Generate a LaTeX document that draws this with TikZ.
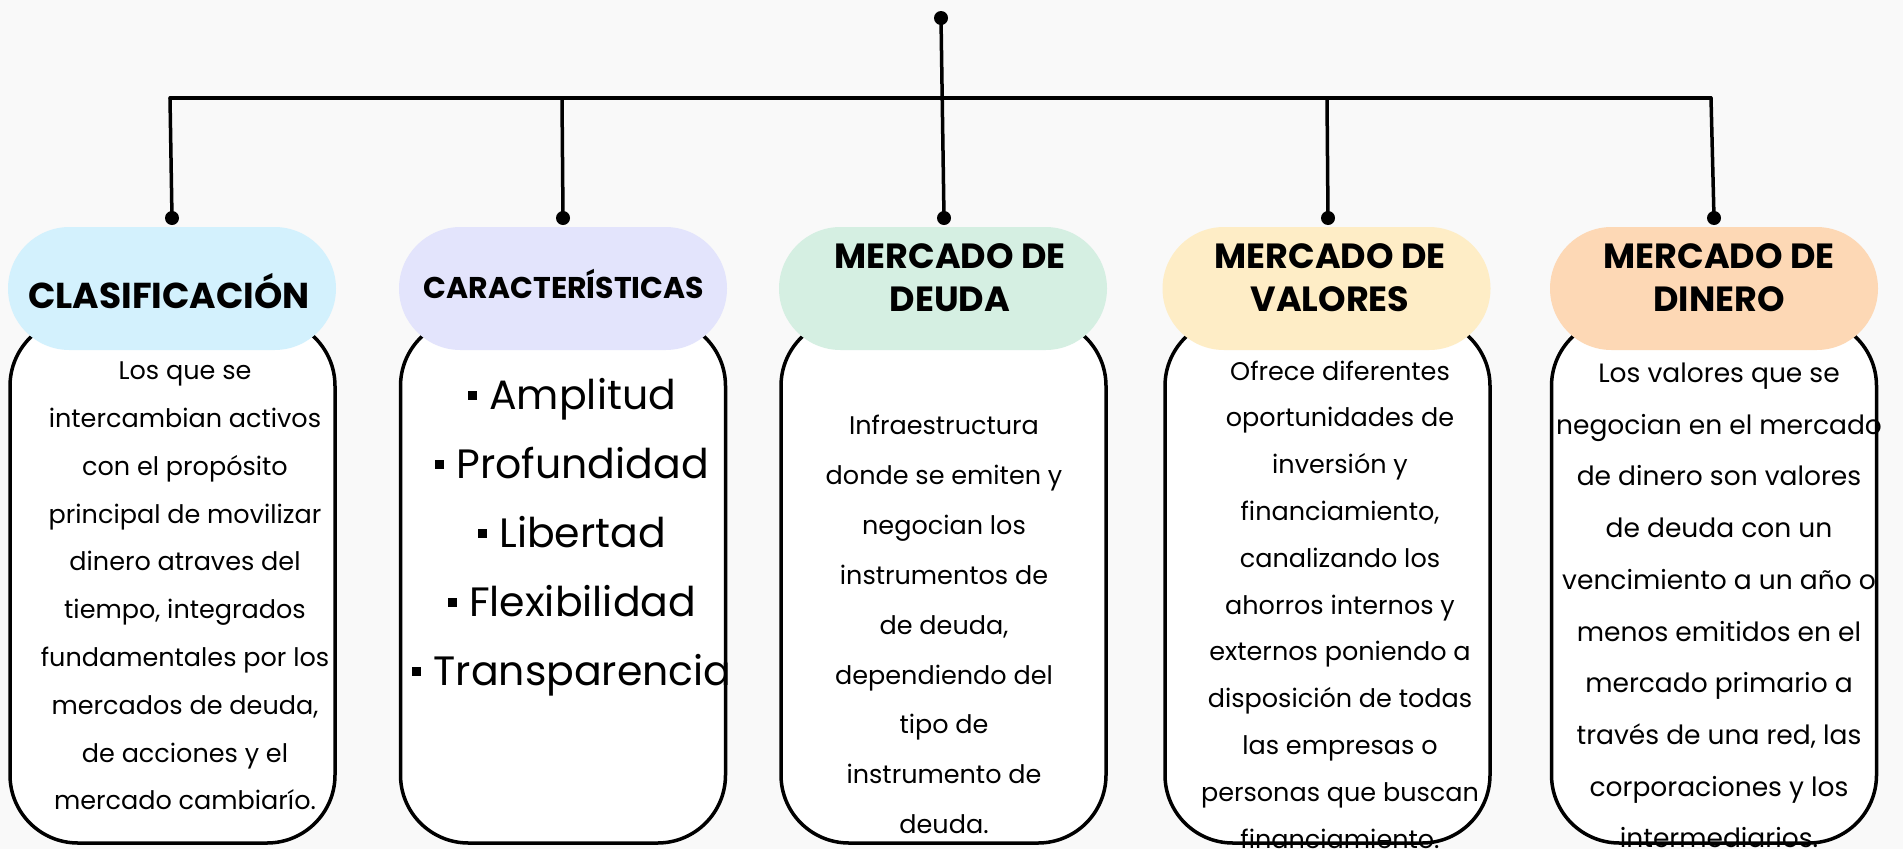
\documentclass[tikz,border=0pt]{standalone}
\usepackage{fontspec}
\setmainfont{Poppins}
\definecolor{bgc}{HTML}{F9F9F9}
\definecolor{pcyan}{HTML}{D3F1FD}
\definecolor{plav}{HTML}{E3E4FC}
\definecolor{pmint}{HTML}{D5EFE2}
\definecolor{pcream}{HTML}{FEEDC6}
\definecolor{ppeach}{HTML}{FDD8B5}
\tikzset{
  wire/.style={line width=3.5pt, line cap=round},
  dotnode/.style={circle, fill=black, inner sep=0pt, minimum size=14pt},
  pill/.style={rectangle, rounded corners=61.5pt, inner sep=0pt, minimum width=328pt, minimum height=123pt},
  bodybox/.style={rectangle, rounded corners=68pt, draw=black, fill=white, line width=3.5pt, inner sep=0pt, minimum width=325pt, minimum height=525pt},
  headtxt/.style={font={\fontsize{35}{43}\selectfont\bfseries}, align=center, inner sep=0pt},
  bodytxt/.style={align=center, inner sep=0pt},
}
\newcommand{\sqb}{\raisebox{0.22em}{\rule{0.22em}{0.22em}}\hspace{0.3em}}
\begin{document}
\begin{tikzpicture}[x=1pt,y=-1pt]
\fill[bgc] (0,0) rectangle (1903,849);
\useasboundingbox (0,0) rectangle (1903,849);

% body boxes
\node[bodybox] (b1) at (172.5,580.5) {};
\node[bodybox] (b2) at (563,580.5) {};
\node[bodybox] (b3) at (943.5,580.5) {};
\node[bodybox] (b4) at (1327.5,580.5) {};
\node[bodybox] (b5) at (1714,580.5) {};

% pills
\node[pill, fill=pcyan] (p1) at (172,288.5) {};
\node[pill, fill=plav] (p2) at (563,288.5) {};
\node[pill, fill=pmint] (p3) at (943,288.5) {};
\node[pill, fill=pcream] (p4) at (1326.5,288.5) {};
\node[pill, fill=ppeach] (p5) at (1714,288.5) {};

% header texts
\node[headtxt, font={\fontsize{36}{43}\selectfont\bfseries}] (h1) at (169,291) {CLASIFICACIÓN};
\node[headtxt, font={\fontsize{30}{36}\selectfont\bfseries}] (h2) at (564,284) {CARACTERÍSTICAS};
\node[headtxt] (h3) at (950,277.5) {MERCADO DE\\DEUDA};
\node[headtxt] (h4) at (1330,277.5) {MERCADO DE\\VALORES};
\node[headtxt] (h5) at (1719,277.5) {MERCADO DE\\DINERO};

% body texts
\node[bodytxt, font={\fontsize{25.5}{47.8}\selectfont}] (t1) at (185,586) {Los que se\\intercambian activos\\con el propósito\\principal de movilizar\\dinero atraves del\\tiempo, integrados\\fundamentales por los\\mercados de deuda,\\de acciones y el\\mercado cambiarío.};
\node[bodytxt, font={\fontsize{41}{69}\selectfont}] (t2) at (572,537) {\sqb Amplitud\\\sqb Profundidad\\\sqb Libertad\\\sqb Flexibilidad\\\sqb Transparencia};
\node[bodytxt, font={\fontsize{25.5}{49.9}\selectfont}] (t3) at (944,624.5) {Infraestructura\\donde se emiten y\\negocian los\\instrumentos de\\de deuda,\\dependiendo del\\tipo de\\instrumento de\\deuda.};
\node[bodytxt, font={\fontsize{25.5}{46.8}\selectfont}] (t4) at (1340,604.5) {Ofrece diferentes\\oportunidades de\\inversión y\\financiamiento,\\canalizando los\\ahorros internos y\\externos poniendo a\\disposición de todas\\las empresas o\\personas que buscan\\financiamiento.};
\node[bodytxt, font={\fontsize{26.5}{51.7}\selectfont}] (t5) at (1719,605.5) {Los valores que se\\negocian en el mercado\\de dinero son valores\\de deuda con un\\vencimiento a un año o\\menos emitidos en el\\mercado primario a\\través de una red, las\\corporaciones y los\\intermediarios.};

% connectors
\coordinate (j1) at (170,98);
\coordinate (j2) at (562,98);
\coordinate (j4) at (1327,98);
\coordinate (j5) at (1711,98);
\node[dotnode] (top) at (941,18) {};
\node[dotnode] (d1) at (172,218) {};
\node[dotnode] (d2) at (563,218) {};
\node[dotnode] (d3) at (944,218) {};
\node[dotnode] (d4) at (1328,218) {};
\node[dotnode] (d5) at (1714,218) {};
\draw[wire] (j1) -- (j5);
\draw[wire] (j1) -- (d1.center);
\draw[wire] (j2) -- (d2.center);
\draw[wire] (top.center) -- (d3.center);
\draw[wire] (j4) -- (d4.center);
\draw[wire] (j5) -- (d5.center);
\end{tikzpicture}
\end{document}
